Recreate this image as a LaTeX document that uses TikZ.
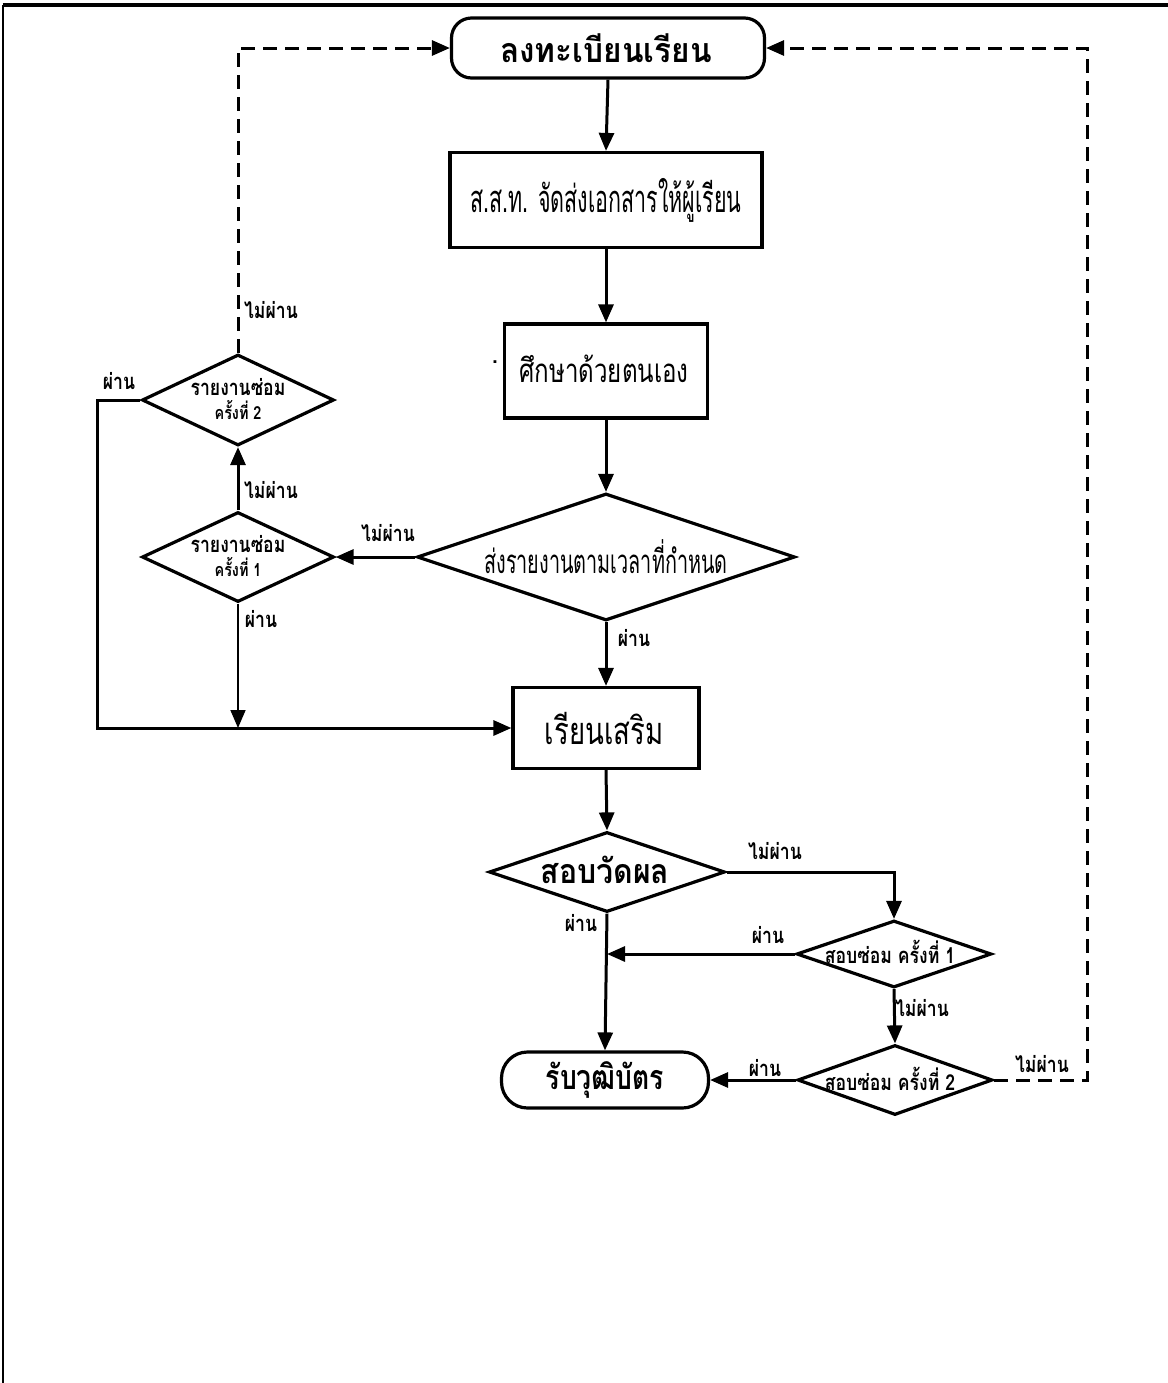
\documentclass[tikz,border=0pt]{standalone}
\usepackage{fontspec}
\usepackage{graphicx}
\newfontfamily\thai[Script=Thai]{Loma}
\newfontfamily\thais[Script=Thai,FakeStretch=0.8]{Loma}
\newcommand\hs[2]{\scalebox{#1}[1]{#2}}
\usetikzlibrary{shapes.geometric,arrows.meta}
\tikzset{
 every node/.style={font=\thai},
 big/.style={font=\thai\fontsize{19}{22}\selectfont, inner sep=0pt},
 mid/.style={font=\thai\fontsize{16.5}{19}\selectfont, inner sep=0pt},
 bigb/.style={font=\thai\bfseries\fontsize{17}{20}\selectfont, inner sep=0pt},
 lbl/.style={font=\thais\bfseries\fontsize{11}{13}\selectfont, inner sep=0pt},
 dtxt/.style={font=\thais\bfseries\fontsize{11}{13}\selectfont, align=center, inner sep=0pt},
 term/.style={draw, line width=1.6pt, rounded corners=10pt, inner sep=0pt},
 proc/.style={draw, line width=1.6pt, inner sep=0pt},
 dec/.style={draw, line width=1.6pt, diamond, inner sep=0pt},
 tip/.style={-{Triangle[length=9pt,width=7.5pt]}},
 conn/.style={line width=1.5pt, tip},
 thin/.style={line width=0.8pt, tip},
 dconn/.style={line width=1.5pt, dash pattern=on 7pt off 4pt, tip},
}
\begin{document}
\begin{tikzpicture}[x=0.5pt,y=-0.5pt]
\useasboundingbox (0,0) rectangle (1168,1383);
\coordinate (f0) at (3,1383);
\coordinate (f1) at (3,5);
\coordinate (f2) at (1168,5);
\draw[line width=1pt] (f0) -- (f1);
\draw[line width=2pt] (2.5,5) -- (f2);

% main column
\node[term, minimum width=156.5pt, minimum height=30pt] (start) at (608,48) {};
\node[bigb] (startt) at (606,48) {\hs{0.93}{ลงทะเบียนเรียน}};
\node[proc, minimum width=156pt, minimum height=47.5pt] (box2) at (606,200) {};
\node[big] (box2t) at (606,200) {\hs{0.565}{ส.ส.ท. จัดส่งเอกสารให้ผู้เรียน}};
\node[proc, minimum width=101.5pt, minimum height=47pt] (box3) at (606,371) {};
\node[mid] (box3t) at (604,369) {\hs{0.73}{ศึกษาด้วยตนเอง}};
\node[font=\thai\fontsize{14}{14}\selectfont, inner sep=0pt] (dot) at (495,362) {.};
\node[dec, minimum width=189pt, minimum height=63.5pt] (dec1) at (606,557) {};
\node[mid] (dec1t) at (606,557) {\hs{0.6}{ส่งรายงานตามเวลาที่กำหนด}};
\node[proc, minimum width=93pt, minimum height=40.5pt] (learn) at (606,728) {};
\node[big] (learnt) at (604,728) {\hs{0.725}{เรียนเสริม}};
\node[dec, minimum width=118pt, minimum height=40pt] (exam) at (607,872) {};
\node[bigb] (examt) at (605,870) {\hs{0.89}{สอบวัดผล}};
\node[term, rounded corners=13pt, minimum width=103.5pt, minimum height=28pt] (cert) at (605,1080) {};
\node[bigb] (certt) at (605,1080) {\hs{0.78}{รับวุฒิบัตร}};

% right repair exams
\node[dec, minimum width=97.5pt, minimum height=33.5pt] (sm1) at (894,954) {};
\node[dtxt] (sm1t) at (890,952) {สอบซ่อม ครั้งที่ 1};
\node[dec, minimum width=97.5pt, minimum height=35pt] (sm2) at (895,1080) {};
\node[dtxt] (sm2t) at (890,1079) {สอบซ่อม ครั้งที่ 2};

% left repair reports
\node[dec, minimum width=96pt, minimum height=45pt] (r1) at (238,557) {};
\node[dtxt] (r1t) at (238,556) {รายงานซ่อม\\[-1pt]{\fontsize{9}{10}\selectfont ครั้งที่ 1}};
\node[dec, minimum width=96pt, minimum height=45.5pt] (r2) at (238,400) {};
\node[dtxt] (r2t) at (238,399) {รายงานซ่อม\\[-1pt]{\fontsize{9}{10}\selectfont ครั้งที่ 2}};

% helper coordinates
\coordinate (m1) at (238,728);
\coordinate (c1) at (97,728);
\coordinate (c2) at (238,48);
\coordinate (m2) at (607,954);
\coordinate (c3) at (1087,48);

% connectors
\draw[conn] (start.south) -- (box2.north);
\draw[conn] (box2.south) -- (box3.north);
\draw[conn] (box3.south) -- (dec1.north);
\draw[conn] (dec1.south) -- (learn.north);
\draw[conn] (dec1.west) -- (r1.east);
\draw[conn] (r1.north) -- (r2.south);
\draw[thin] (r1.south) -- (m1);
\draw[conn] (r2.west) -| (c1) -- (learn.west);
\draw[dconn] (r2.north) -- (c2) -- (start.west);
\draw[conn] (learn.south) -- (exam.north);
\draw[conn] (exam.east) -| (sm1.north);
\draw[conn] (sm1.west) -- (m2);
\draw[conn] (exam.south) -- (cert.north);
\draw[conn] (sm1.south) -- (sm2.north);
\draw[conn] (sm2.west) -- (cert.east);
\draw[dconn] (sm2.east) -| (c3) -- (start.east);

% labels
\node[lbl] (l1) at (271,310) {ไม่ผ่าน};
\node[lbl] (l2) at (119,381) {ผ่าน};
\node[lbl] (l3) at (271,490) {ไม่ผ่าน};
\node[lbl] (l4) at (388,533) {ไม่ผ่าน};
\node[lbl] (l5) at (261,619) {ผ่าน};
\node[lbl] (l6) at (634,638) {ผ่าน};
\node[lbl] (l7) at (775,851) {ไม่ผ่าน};
\node[lbl] (l8) at (581,923) {ผ่าน};
\node[lbl] (l9) at (768,935) {ผ่าน};
\node[lbl] (l10) at (922,1008) {ไม่ผ่าน};
\node[lbl] (l11) at (765,1068) {ผ่าน};
\node[lbl] (l12) at (1042,1064) {ไม่ผ่าน};
\end{tikzpicture}
\end{document}
